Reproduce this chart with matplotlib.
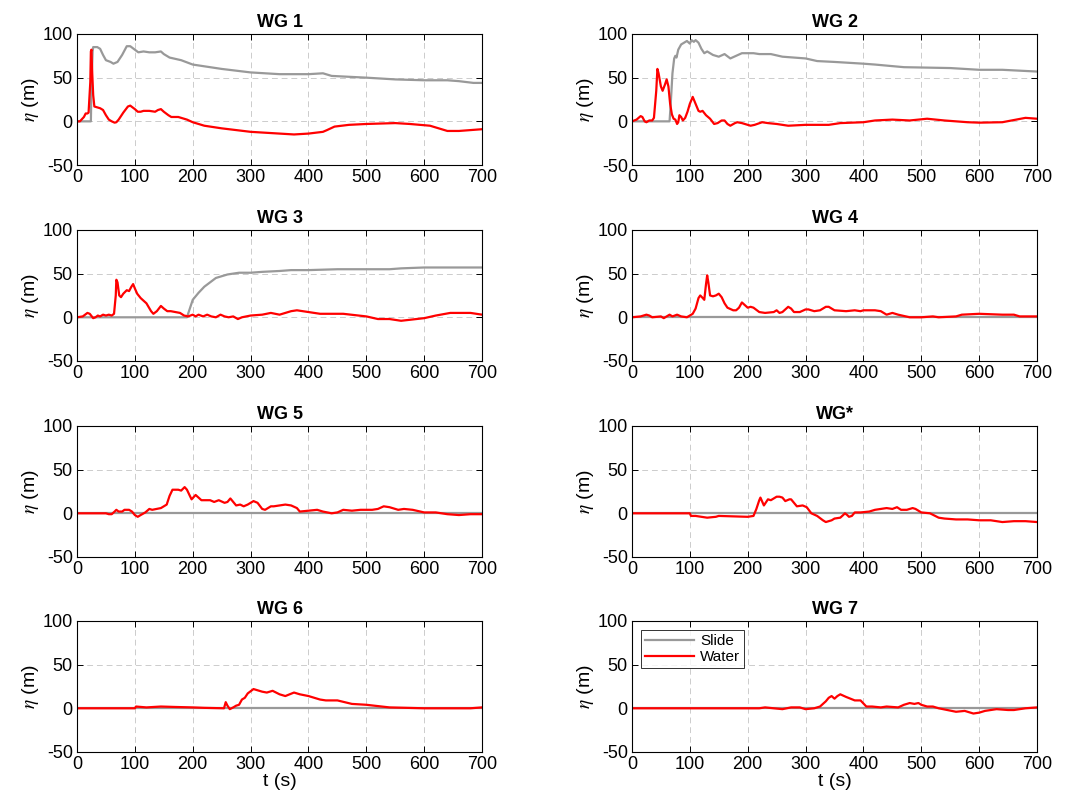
import numpy as np
import matplotlib
matplotlib.use('Agg')
import matplotlib.pyplot as plt

plt.rcParams['font.family'] = ['Liberation Sans', 'DejaVu Sans']
plt.rcParams['mathtext.fontset'] = 'stix'
plt.rcParams['axes.unicode_minus'] = False

titles = ['WG 1', 'WG 2', 'WG 3', 'WG 4', 'WG 5', 'WG*', 'WG 6', 'WG 7']

# water surface elevation (t, eta) per gauge
wg1_t = [0, 5, 12, 15, 18, 20, 23, 24, 25, 26, 28, 30, 35, 40, 45, 50, 55, 60, 65, 68, 72, 80, 88, 92,
         100, 105, 110, 115, 125, 135, 140, 145, 150, 158, 163, 175, 190, 200, 220, 250, 300, 350, 375,
         400, 425, 432, 445, 470, 500, 550, 575, 610, 625, 640, 660, 680, 700]
wg1_w = [0, 0, 5, 9, 9, 10, 45, 80, 82, 60, 30, 17, 16, 15, 13, 7, 2, 0, -1.5, -1, 2, 10, 17, 18,
         14, 11, 11, 12, 12, 11, 13, 14, 11, 7, 5, 5, 2, -1, -5, -8, -12, -14, -15,
         -14, -12, -10, -6, -4, -3, -2, -3, -5, -8, -11, -11, -10, -9]
wg1_st = [0, 24, 25, 27, 28, 35, 40, 45, 50, 58, 63, 70, 78, 86, 92, 100, 106, 115, 125, 135, 145, 150,
          160, 180, 200, 230, 250, 300, 350, 400, 425, 440, 500, 550, 600, 640, 660, 685, 700]
wg1_s = [0, 0, 40, 80, 85, 85, 83, 76, 70, 68, 66, 68, 76, 86, 86, 82, 79, 80, 79, 79, 80, 77,
         73, 70, 65, 62, 60, 56, 54, 54, 55, 52, 50, 48, 47, 47, 46, 44, 44]

wg2_t = [0, 8, 15, 18, 22, 25, 30, 35, 38, 42, 44, 46, 50, 53, 57, 60, 63, 66, 69, 72, 75, 78, 80, 82,
         85, 88, 92, 96, 100, 105, 110, 115, 118, 122, 128, 135, 142, 148, 155, 160, 165, 170, 178,
         182, 190, 205, 212, 225, 235, 250, 260, 270, 300, 340, 360, 400, 420, 450, 480, 510, 540,
         580, 600, 640, 680, 700]
wg2_w = [0, 2, 6, 5, 0, -1, 1, 1, 4, 35, 60, 55, 40, 35, 42, 48, 40, 20, 8, 3, 2, -3, -1, 7,
         5, 1, 4, 11, 20, 28, 20, 12, 11, 12, 7, 3, -3, -2, 1, 1, -3, -5, -2,
         -1, -2, -5, -4, -1, -2, -3, -4, -5, -4, -4, -2, -1, 1, 2, 1, 3, 1,
         -1, -1.5, -1, 4, 3]
wg2_st = [0, 65, 67, 70, 73, 75, 77, 80, 85, 90, 95, 100, 103, 107, 110, 115, 120, 125, 130, 140, 150,
          160, 170, 180, 190, 210, 220, 240, 260, 300, 320, 350, 400, 420, 470, 550, 600, 640, 700]
wg2_s = [0, 0, 20, 55, 72, 75, 73, 82, 88, 90, 92, 89, 93, 91, 93, 90, 83, 78, 80, 76, 74,
         77, 72, 75, 78, 78, 77, 77, 74, 72, 69, 68, 66, 65, 62, 61, 59, 59, 57]

wg3_t = [0, 10, 18, 22, 28, 32, 36, 40, 45, 50, 55, 60, 64, 67, 68, 70, 73, 76, 80, 86, 90, 94, 97,
         100, 104, 110, 120, 128, 132, 138, 145, 150, 156, 162, 170, 178, 185, 192, 200, 205, 210,
         218, 225, 232, 240, 248, 255, 262, 270, 278, 285, 300, 320, 335, 350, 370, 380, 400, 420,
         460, 500, 520, 540, 560, 600, 620, 645, 680, 700]
wg3_w = [0, 1, 5, 4, -1, 0, 2, 1, 3, 2, 3, 2, 4, 25, 43, 40, 25, 23, 27, 31, 30, 35, 38,
         33, 27, 22, 16, 7, 4, 7, 13, 10, 7, 7, 6, 5, 2, 1, 3, 1, 3,
         1, 3, 1, 0, 3, 1, 0, 1, -2, 0, 2, 3, 5, 3, 7, 8, 6, 4,
         4, 1, -2, -2, -4, -1, 2, 5, 5, 3]
wg3_st = [0, 190, 195, 200, 210, 220, 230, 240, 260, 280, 300, 320, 350, 370, 400, 450, 500, 540,
          560, 600, 650, 700]
wg3_s = [0, 0, 10, 20, 28, 35, 40, 45, 49, 51, 51, 52, 53, 54, 54, 55, 55, 55,
         56, 57, 57, 57]

wg4_t = [0, 15, 25, 30, 35, 50, 55, 60, 65, 70, 78, 85, 95, 100, 105, 110, 115, 118, 121, 125, 128,
         130, 132, 135, 140, 145, 150, 155, 160, 165, 175, 180, 185, 190, 195, 200, 205, 210, 220,
         230, 245, 250, 255, 260, 270, 275, 280, 290, 300, 305, 315, 325, 335, 340, 350, 370, 385,
         395, 400, 420, 430, 440, 450, 460, 480, 500, 520, 530, 560, 570, 600, 640, 660, 670, 690, 700]
wg4_w = [0, 1, 3, 2, 0, 1, -1, 1, 3, 1, 3, 1, 0, 2, 4, 10, 22, 25, 23, 20, 38,
         48, 40, 25, 24, 25, 27, 23, 16, 11, 8, 8, 11, 17, 14, 11, 12, 11, 6,
         5, 6, 8, 5, 6, 12, 10, 6, 6, 9, 9, 7, 8, 12, 12, 8, 7, 8,
         7, 8, 8, 7, 3, 5, 3, 0, 0, 1, 0, 1, 3, 4, 3, 3, 1, 1, 1]

wg5_t = [0, 50, 55, 60, 65, 68, 72, 78, 82, 90, 95, 100, 105, 110, 118, 125, 130, 145, 155, 160,
         165, 175, 180, 186, 190, 195, 198, 205, 210, 215, 230, 237, 245, 255, 260, 265, 270, 275,
         282, 288, 295, 305, 312, 320, 325, 335, 340, 350, 360, 370, 380, 385, 400, 415, 425, 440,
         450, 460, 475, 490, 510, 520, 530, 540, 555, 565, 580, 600, 620, 640, 660, 680, 700]
wg5_w = [0, 0, -1, -1, 2, 4, 2, 2, 4, 4, 2, -2, -4, -2, 1, 5, 4, 6, 10, 20,
         27, 27, 26, 30, 27, 20, 16, 21, 18, 15, 15, 13, 15, 12, 13, 17, 13, 9,
         10, 8, 10, 14, 12, 5, 4, 8, 8, 9, 10, 9, 6, 2, 3, 4, 2, 0,
         1, 4, 3, 4, 4, 5, 8, 7, 4, 5, 4, 1, 1, -1, -2, -1, -1]

wgs_t = [0, 100, 102, 110, 130, 145, 150, 200, 210, 215, 220, 222, 228, 235, 240, 250, 255, 260, 265,
         272, 275, 280, 285, 295, 302, 310, 320, 330, 335, 345, 350, 360, 365, 368, 372, 375, 380,
         385, 395, 410, 420, 440, 450, 458, 465, 475, 485, 490, 500, 515, 530, 540, 560, 580, 600,
         620, 640, 660, 680, 700]
wgs_w = [0, 0, -3, -3, -5, -4, -3, -4, -3, 5, 15, 18, 9, 16, 15, 19, 19, 18, 14,
         16, 16, 12, 8, 9, 7, 0, -3, -8, -10, -8, -6, -5, -2, 0, -2, -4, -3,
         1, 1, 2, 4, 6, 5, 7, 4, 4, 6, 5, 1, 0, -5, -6, -7, -7, -8,
         -8, -10, -9, -9, -10]

wg6_t = [0, 100, 102, 120, 145, 170, 200, 220, 254, 257, 260, 264, 270, 275, 280, 285, 290, 295, 305,
         320, 328, 338, 350, 360, 375, 385, 400, 420, 430, 450, 475, 500, 540, 600, 680, 700]
wg6_w = [0, 0, 2, 1, 2, 1.5, 1, 0.5, 0, 7, 3, -1, 1, 3, 4, 10, 12, 17, 22,
         19, 18, 20, 16, 14, 18, 16, 14, 10, 9, 9, 5, 4, 1, 0, 0, 1]

wg7_t = [0, 200, 220, 230, 260, 275, 290, 300, 315, 325, 335, 340, 345, 350, 355, 360, 370, 385, 395,
         405, 415, 430, 440, 460, 470, 480, 488, 495, 500, 510, 520, 530, 545, 560, 575, 590, 600,
         610, 630, 650, 660, 680, 700]
wg7_w = [0, 0, 0, 1, -1, 1, 1, -1, 0, 2, 8, 12, 14, 11, 14, 16, 13, 9, 9,
         2, 2, 1, 2, 1, 4, 6, 5, 6, 4, 2, 2, 0, -2, -4, -3, -6, -5,
         -3, -1, -2, -2, 0, 1]

water_t = [wg1_t, wg2_t, wg3_t, wg4_t, wg5_t, wgs_t, wg6_t, wg7_t]
water = [wg1_w, wg2_w, wg3_w, wg4_w, wg5_w, wgs_w, wg6_w, wg7_w]
slide_t = [wg1_st, wg2_st, wg3_st, [0, 700], [0, 700], [0, 700], [0, 700], [0, 700]]
slide = [wg1_s, wg2_s, wg3_s, [0, 0], [0, 0], [0, 0], [0, 0], [0, 0]]

fig = plt.figure(figsize=(10.89, 8.09), dpi=100)

lefts = [0.0707, 0.5803]
bottoms = [0.796, 0.5538, 0.3115, 0.0705]
w, h = 0.372, 0.162

for i in range(8):
    r, c = divmod(i, 2)
    ax = fig.add_axes([lefts[c], bottoms[r], w, h])
    ax.plot(slide_t[i], slide[i], color='#999999', lw=1.6, label='Slide')
    ax.plot(water_t[i], water[i], color='red', lw=1.6, label='Water')
    ax.set_xlim(0, 700)
    ax.set_ylim(-50, 100)
    ax.set_xticks(np.arange(0, 701, 100))
    ax.set_yticks([-50, 0, 50, 100])
    ax.grid(True, color='#cccccc', linestyle=(0, (6, 4)), lw=0.7)
    ax.set_axisbelow(True)
    ax.tick_params(direction='in', top=True, right=True, labelsize=13, length=4, width=0.7, pad=3)
    for s in ax.spines.values():
        s.set_linewidth(0.8)
    ax.set_title(titles[i], fontsize=13, fontweight='bold', pad=5)
    ax.set_ylabel(r'$\eta$ (m)', fontsize=14, labelpad=1)
    if r == 3:
        ax.set_xlabel('t (s)', fontsize=14, labelpad=0)
    if i == 7:
        leg = ax.legend(loc='upper left', fontsize=11, fancybox=False, edgecolor='black',
                        handlelength=3.2, borderaxespad=0.6, labelspacing=0.15,
                        borderpad=0.25, handletextpad=0.4)
        leg.get_frame().set_linewidth(0.7)

fig.savefig('out.png', dpi=100)
